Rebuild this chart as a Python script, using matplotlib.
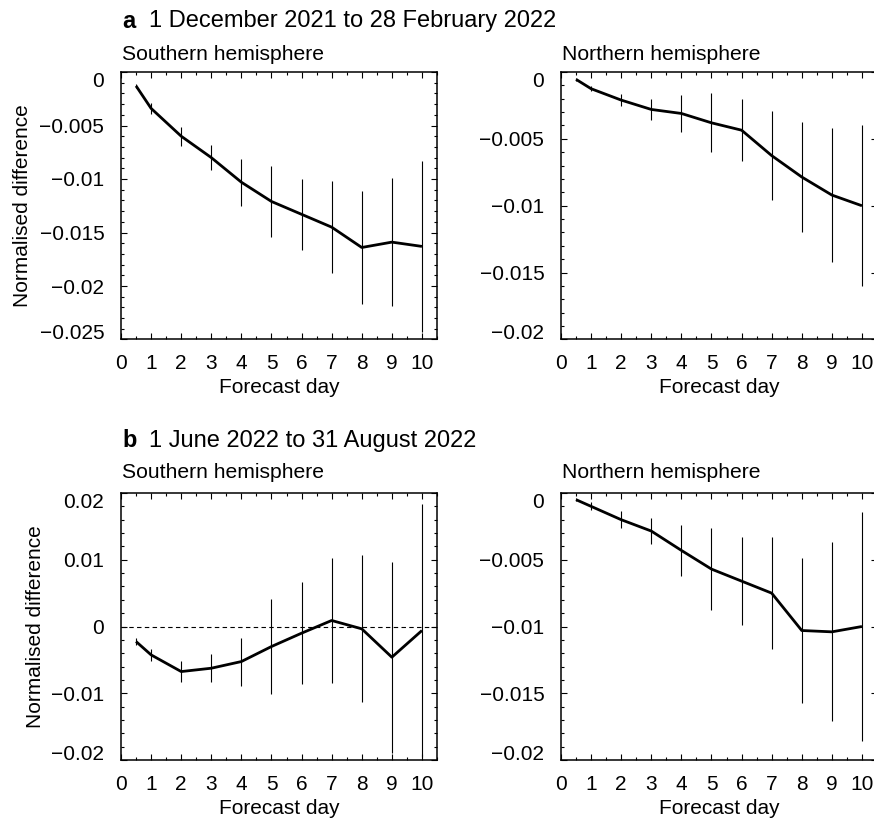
import matplotlib
matplotlib.use("Agg")
import matplotlib.pyplot as plt
from matplotlib.ticker import MultipleLocator, FuncFormatter

plt.rcParams['font.family'] = ['Liberation Sans', 'DejaVu Sans']

days = [0.5, 1, 2, 3, 4, 5, 6, 7, 8, 9, 10]

# a: 1 December 2021 to 28 February 2022
a_sh = [-0.0013, -0.0034, -0.0060, -0.0080, -0.0103, -0.0121, -0.0133, -0.0145, -0.0164, -0.0159, -0.0163]
a_sh_err = [0.0002, 0.0005, 0.0009, 0.0012, 0.0022, 0.0033, 0.0033, 0.0043, 0.0053, 0.0060, 0.0080]
a_nh = [-0.00055, -0.00125, -0.0021, -0.0028, -0.0031, -0.0038, -0.00435, -0.00625, -0.00785, -0.0092, -0.0100]
a_nh_err = [0.0001, 0.0002, 0.00045, 0.0008, 0.0014, 0.0022, 0.0023, 0.0033, 0.0041, 0.0050, 0.0060]

# b: 1 June 2022 to 31 August 2022
b_sh = [-0.00225, -0.00425, -0.00675, -0.00625, -0.00525, -0.0030, -0.0010, 0.0009, -0.00035, -0.0046, -0.0006]
b_sh_err = [0.0005, 0.0009, 0.0016, 0.0021, 0.0036, 0.0071, 0.0076, 0.0093, 0.0110, 0.0143, 0.0189]
b_nh = [-0.0005, -0.0010, -0.0020, -0.00285, -0.0043, -0.0057, -0.0066, -0.0075, -0.0103, -0.0104, -0.0100]
b_nh_err = [0.0001, 0.0003, 0.00065, 0.0010, 0.0019, 0.0031, 0.0033, 0.0042, 0.0054, 0.0067, 0.0086]

W, H = 874, 818
fig = plt.figure(figsize=(W / 100, H / 100), dpi=100)


def px_axes(l, t, r, b):
    return fig.add_axes([l / W, 1 - b / H, (r - l) / W, (b - t) / H])


def fmt(v, pos):
    s = ('%.3f' % v).rstrip('0').rstrip('.')
    if s in ('-0', '0'):
        return '0'
    return s.replace('-', '\u2212')


def panel(ax, y, err, ylim, ymaj, ymin, ylab_x=None):
    ax.vlines(days, [v - e for v, e in zip(y, err)], [v + e for v, e in zip(y, err)],
              color='black', lw=0.8)
    ax.plot(days, y, color='black', lw=2.0, solid_capstyle='butt')
    ax.set_xlim(0, 10.5)
    ax.set_ylim(*ylim)
    ax.xaxis.set_major_locator(MultipleLocator(1))
    ax.xaxis.set_minor_locator(MultipleLocator(0.5))
    ax.yaxis.set_major_locator(MultipleLocator(ymaj))
    ax.yaxis.set_minor_locator(MultipleLocator(ymin))
    ax.yaxis.set_major_formatter(FuncFormatter(fmt))
    ax.xaxis.set_major_formatter(FuncFormatter(lambda v, p: '%d' % v))
    ax.tick_params(which='both', direction='in', top=True, right=True, width=0.8,
                   labelsize=15)
    ax.tick_params(which='major', length=4.5)
    ax.tick_params(which='minor', length=2.2)
    ax.tick_params(axis='x', pad=10.5)
    ax.tick_params(axis='y', pad=12)
    for s in ax.spines.values():
        s.set_linewidth(1.1)
    ax.set_xlabel('Forecast day', fontsize=15)
    ax.xaxis.set_label_coords(0.5, -0.145)
    if ylab_x is not None:
        ax.set_ylabel('Normalised difference', fontsize=15)
        ax.yaxis.set_label_coords(ylab_x, 0.5)
    # keep the end labels inside the axis range
    fig.canvas.draw()
    labs = ax.yaxis.get_majorticklabels()
    locs = ax.yaxis.get_majorticklocs()
    for lab, loc in zip(labs, locs):
        if abs(loc - ylim[1]) < 1e-9:
            lab.set_va('top')
        elif abs(loc - ylim[0]) < 1e-9:
            lab.set_va('baseline')


ax1 = px_axes(121, 72, 437, 339.5)
ax2 = px_axes(561, 72, 877, 339.5)
ax3 = px_axes(121, 493, 437, 760)
ax4 = px_axes(561, 493, 877, 760)

panel(ax1, a_sh, a_sh_err, (-0.025, 0), 0.005, 0.001, ylab_x=-0.283)
panel(ax2, a_nh, a_nh_err, (-0.02, 0), 0.005, 0.001)
panel(ax3, b_sh, b_sh_err, (-0.02, 0.02), 0.01, 0.002, ylab_x=-0.239)
panel(ax4, b_nh, b_nh_err, (-0.02, 0), 0.005, 0.001)
ax3.axhline(0, color='black', lw=0.8, ls=(0, (4, 3)))

# panel headings
fig.text(122 / W, 1 - 21 / H, 'a', fontsize=17, fontweight='bold', va='center')
fig.text(149 / W, 1 - 21 / H, '1 December 2021 to 28 February 2022', fontsize=17, va='center')
fig.text(122 / W, 1 - 441 / H, 'b', fontsize=17, fontweight='bold', va='center')
fig.text(149 / W, 1 - 441 / H, '1 June 2022 to 31 August 2022', fontsize=17, va='center')
for x0, y0, t in [(122, 55, 'Southern hemisphere'), (562, 55, 'Northern hemisphere'),
                  (122, 473, 'Southern hemisphere'), (562, 473, 'Northern hemisphere')]:
    fig.text(x0 / W, 1 - y0 / H, t, fontsize=15.2, va='center')

fig.savefig('out.png', dpi=100)
